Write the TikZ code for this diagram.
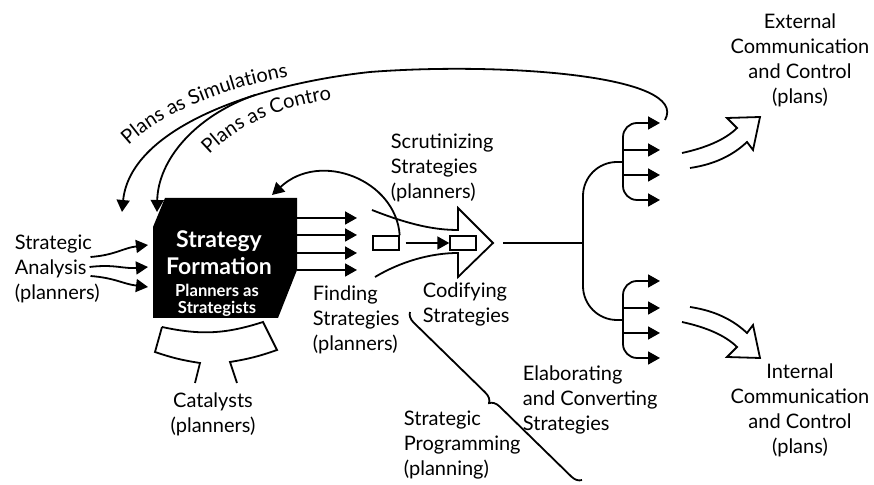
\documentclass[tikz,border=0pt]{standalone}
\usepackage{fontspec}
\setmainfont{Lato}
\usetikzlibrary{arrows.meta,calc,decorations.text,decorations.pathreplacing}

\begin{document}
\begin{tikzpicture}[x=0.5pt,y=-0.5pt,line width=0.9pt,
		every node/.style={inner sep=0pt,font=\fontsize{10}{12.5}\selectfont},
		tip/.style={-{Triangle[length=6pt,width=6.5pt]}},
		twotips/.style={{Triangle[length=6pt,width=6.5pt]}-{Triangle[length=6pt,width=6.5pt]}},
		fan/.style={rounded corners=7pt},
		stage/.style={draw,minimum width=13pt,minimum height=7pt,line width=0.7pt},
		curved text/.style={decorate,decoration={text along path,text align=center,text={|\fontsize{10}{12}\selectfont|#1}}}]
	\useasboundingbox (0,0) rectangle (874,485);
	\fill (165,198) coordinate (boxnw) -- (297,198) coordinate (boxne) -- (297,270) -- (278,318) -- (153,318) coordinate (boxsw) -- (153,227) -- cycle;
	\node[text=white,align=center,font=\fontsize{11.5}{13.5}\selectfont\bfseries] (formation) at (219,253) {Strategy\\Formation};
	\node[text=white,align=center,font=\fontsize{8.3}{8.5}\selectfont\bfseries] (strategists) at (217,300) {Planners as\\Strategists};
	\node[align=left,anchor=west] (analysis) at (14,269) {Strategic\\Analysis\\(planners)};
	\node[align=left,anchor=west] (scrutiny) at (390,168) {Scrutinizing\\Strategies\\(planners)};
	\node[align=left,anchor=west] (codify) at (422,304) {Codifying\\Strategies};
	\node[align=left,anchor=west] (finding) at (312,320) {Finding\\Strategies\\(planners)};
	\node[align=center] (catalysts) at (213,414) {Catalysts\\(planners)};
	\node[align=left,anchor=west] (elaborate) at (522,400) {Elaborating\\and Converting\\Strategies};
	\node[align=left,anchor=west] (programming) at (403,445) {Strategic\\Programming\\(planning)};
	\node[align=center] (external) at (800,60) {External\\Communication\\and Control\\(plans)};
	\node[align=center] (internal) at (800,410) {Internal\\Communication\\and Control\\(plans)};
	\node[stage] (draft) at (386,243) {};
	\node[stage] (code) at (463,243) {};
	\coordinate (fork) at (583,243);
	\coordinate (extfan) at (623,162);
	\coordinate (intfan) at (623,320);
	\draw[tip] ($(analysis.east)+(-10,-12)$) .. controls +(25,-2) and +(-25,3) .. ($(boxsw)+(-5,-73)$);
	\draw[tip] ($(analysis.east)+(-11,-2)$) .. controls +(25,-3) and +(-25,2) .. ($(boxsw)+(-5,-51)$);
	\draw[tip] ($(analysis.east)+(-10,7)$) .. controls +(25,2) and +(-25,-3) .. ($(boxsw)+(-5,-31)$);
	\foreach \d in {20,37,55,72}
		\draw[tip] ($(boxne)+(0,\d)$) -- ++(60,0);
	\draw[tip] (draft.north east) .. controls (396,180) and (320,150) .. ($(boxne)+(-25,-3)$);
	\draw[tip] ([xshift=3pt]draft.east) -- (code.west);
	\draw[line join=miter] (372,210) .. controls (410,225) and (435,230) .. (458,230) -- (458,208) -- (493,243) coordinate (arrowtip) -- (458,277) -- (458,253) .. controls (430,253) and (400,262) .. (375,277);
	\draw ([xshift=5pt]arrowtip) -- (fork);
	\draw[rounded corners=17pt] (extfan) -- (extfan -| fork) -- (intfan -| fork) -- (intfan);
	\foreach \fan in {extfan,intfan} {
		\draw[twotips,fan] ($(\fan)+(37,-39)$) -- ($(\fan)+(0,-39)$) -- ($(\fan)+(0,38)$) -- ($(\fan)+(37,38)$);
		\foreach \d in {-12,13}
			\draw[tip] ($(\fan)+(0,\d)$) -- ++(37,0);
	}
	\draw[tip] ($(extfan)+(42,-42)$) .. controls (690,75) and (500,62) .. (370,72) .. controls (250,85) and (130,130) .. ($(boxnw)+(-43,14)$);
	\draw[tip] (255,95) .. controls (195,116) and (158,160) .. ($(boxnw)+(-8,14)$);
	\path[curved text=Plans as Simulations] (118,156) .. controls (153,116) and (218,88) .. (303,74);
	\path[curved text=Plans as Contro] (197,168) .. controls (232,125) and (280,105) .. (350,97);
	\draw[line join=miter] (682,153) .. controls (705,148) and (725,140) .. (737,128) -- (727,118) -- (760,117) -- (753,150) -- (747,142) .. controls (730,158) and (710,165) .. (690,168);
	\draw[line join=miter] (682,322) .. controls (705,327) and (725,335) .. (737,347) -- (727,357) -- (760,358) -- (753,325) -- (747,333) .. controls (730,317) and (710,310) .. (690,307);
	\draw (162,327) to[bend right=15] (263,322) -- (277,350) to[bend left=5] (230,362) -- (237,383);
	\draw (162,327) -- (155,352) to[bend right=5] (200,363) -- (195,383);
	\draw[decorate,decoration={brace,amplitude=5pt}] (582,480) -- (410,312);
\end{tikzpicture}
\end{document}
